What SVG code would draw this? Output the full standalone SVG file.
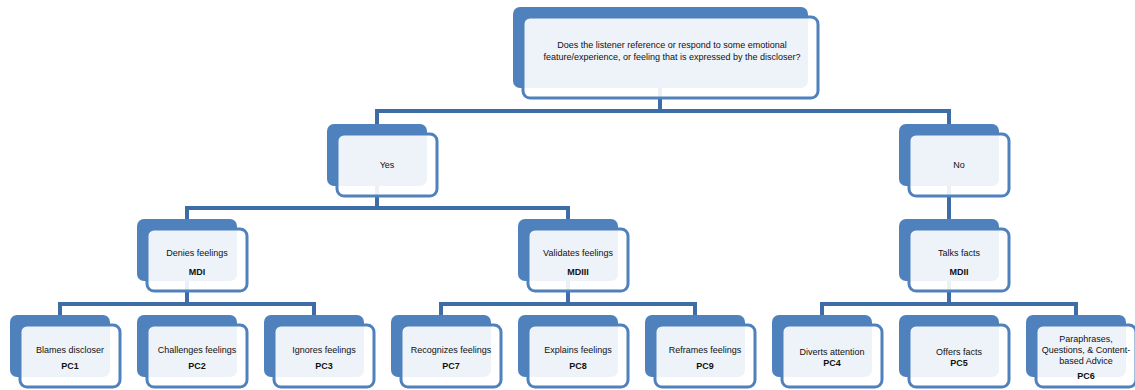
<svg xmlns="http://www.w3.org/2000/svg" width="1135" height="390" viewBox="0 0 1135 390">
<style>
.bk{fill:#4f81bd}
.fr{fill:#ffffff;fill-opacity:0.9;stroke:#4f81bd;stroke-width:3}
.cn{fill:none;stroke:#3e6ca6;stroke-width:4;stroke-linejoin:miter}
text{font-family:"Liberation Sans",Arial,sans-serif;font-size:9px;fill:#111111;text-anchor:middle}
.b{font-weight:bold}
</style>
<rect width="1135" height="390" fill="#ffffff"/>
<g id="connectors">
<path class="cn" d="M660,88 V111 M377,124 V111 H949 V124"/>
<path class="cn" d="M377,186 V208 M187,219 V208 H568 V219"/>
<path class="cn" d="M949,186 V219"/>
<path class="cn" d="M187,281 V304 M60,315 V304 H314 V315"/>
<path class="cn" d="M568,281 V304 M441,315 V304 H695 V315"/>
<path class="cn" d="M949,281 V304 M822,315 V304 H1076 V315"/>
</g>
<g id="root">
<rect class="bk" x="513" y="7" width="295" height="81" rx="7"/>
<rect class="fr" x="523" y="17" width="295" height="81" rx="7"/>
<text x="672" y="48">Does the listener reference or respond to some emotional</text>
<text x="672" y="60">feature/experience, or feeling that is expressed by the discloser?</text>
</g>
<g id="yes">
<rect class="bk" x="327" y="124" width="100" height="62" rx="7"/>
<rect class="fr" x="337" y="134" width="100" height="62" rx="7"/>
<text x="387" y="168">Yes</text>
</g>
<g id="no">
<rect class="bk" x="899" y="124" width="100" height="62" rx="7"/>
<rect class="fr" x="909" y="134" width="100" height="62" rx="7"/>
<text x="959" y="168">No</text>
</g>
<g id="mdi">
<rect class="bk" x="137" y="219" width="100" height="62" rx="7"/>
<rect class="fr" x="147" y="229" width="100" height="62" rx="7"/>
<text x="197" y="256">Denies feelings</text>
<text class="b" x="197" y="275">MDI</text>
</g>
<g id="mdiii">
<rect class="bk" x="518" y="219" width="100" height="62" rx="7"/>
<rect class="fr" x="528" y="229" width="100" height="62" rx="7"/>
<text x="578" y="256">Validates feelings</text>
<text class="b" x="578" y="275">MDIII</text>
</g>
<g id="mdii">
<rect class="bk" x="899" y="219" width="100" height="62" rx="7"/>
<rect class="fr" x="909" y="229" width="100" height="62" rx="7"/>
<text x="959" y="256">Talks facts</text>
<text class="b" x="959" y="275">MDII</text>
</g>
<g id="pc1">
<rect class="bk" x="10" y="315" width="100" height="62" rx="7"/>
<rect class="fr" x="20" y="325" width="100" height="62" rx="7"/>
<text x="70" y="353">Blames discloser</text>
<text class="b" x="70" y="369">PC1</text>
</g>
<g id="pc2">
<rect class="bk" x="137" y="315" width="100" height="62" rx="7"/>
<rect class="fr" x="147" y="325" width="100" height="62" rx="7"/>
<text x="197" y="353">Challenges feelings</text>
<text class="b" x="197" y="369">PC2</text>
</g>
<g id="pc3">
<rect class="bk" x="264" y="315" width="100" height="62" rx="7"/>
<rect class="fr" x="274" y="325" width="100" height="62" rx="7"/>
<text x="324" y="353">Ignores feelings</text>
<text class="b" x="324" y="369">PC3</text>
</g>
<g id="pc7">
<rect class="bk" x="391" y="315" width="100" height="62" rx="7"/>
<rect class="fr" x="401" y="325" width="100" height="62" rx="7"/>
<text x="451" y="353">Recognizes feelings</text>
<text class="b" x="451" y="369">PC7</text>
</g>
<g id="pc8">
<rect class="bk" x="518" y="315" width="100" height="62" rx="7"/>
<rect class="fr" x="528" y="325" width="100" height="62" rx="7"/>
<text x="578" y="353">Explains feelings</text>
<text class="b" x="578" y="369">PC8</text>
</g>
<g id="pc9">
<rect class="bk" x="645" y="315" width="100" height="62" rx="7"/>
<rect class="fr" x="655" y="325" width="100" height="62" rx="7"/>
<text x="705" y="353">Reframes feelings</text>
<text class="b" x="705" y="369">PC9</text>
</g>
<g id="pc4">
<rect class="bk" x="772" y="315" width="100" height="62" rx="7"/>
<rect class="fr" x="782" y="325" width="100" height="62" rx="7"/>
<text x="832" y="355">Diverts attention</text>
<text class="b" x="832" y="366">PC4</text>
</g>
<g id="pc5">
<rect class="bk" x="899" y="315" width="100" height="62" rx="7"/>
<rect class="fr" x="909" y="325" width="100" height="62" rx="7"/>
<text x="959" y="355">Offers facts</text>
<text class="b" x="959" y="366">PC5</text>
</g>
<g id="pc6">
<rect class="bk" x="1026" y="315" width="100" height="62" rx="7"/>
<rect class="fr" x="1036" y="325" width="100" height="62" rx="7"/>
<text x="1086" y="342">Paraphrases,</text>
<text x="1086" y="353">Questions, &amp; Content-</text>
<text x="1086" y="364">based Advice</text>
<text class="b" x="1086" y="379">PC6</text>
</g>
</svg>
